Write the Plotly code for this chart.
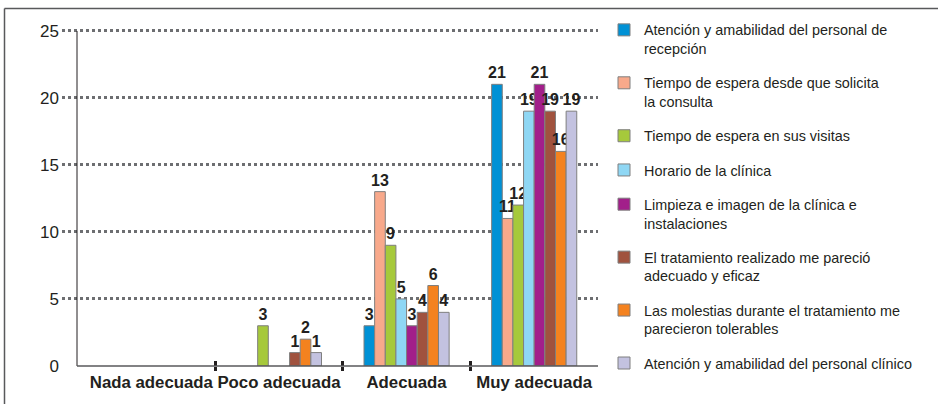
import plotly.graph_objects as go

categories = ["Nada adecuada", "Poco adecuada", "Adecuada", "Muy adecuada"]

series_names = [
    "Atención y amabilidad del personal de<br>recepción",
    "Tiempo de espera desde que solicita<br>la consulta",
    "Tiempo de espera en sus visitas",
    "Horario de la clínica",
    "Limpieza e imagen de la clínica e<br>instalaciones",
    "El tratamiento realizado me pareció<br>adecuado y eficaz",
    "Las molestias durante el tratamiento me<br>parecieron tolerables",
    "Atención y amabilidad del personal clínico",
]

atencion_recepcion = [0, 0, 3, 21]
espera_consulta = [0, 0, 13, 11]
espera_visitas = [0, 3, 9, 12]
horario = [0, 0, 5, 19]
limpieza = [0, 0, 3, 21]
tratamiento = [0, 1, 4, 19]
molestias = [0, 2, 6, 16]
atencion_clinico = [0, 1, 4, 19]

series_values = [atencion_recepcion, espera_consulta, espera_visitas, horario,
                 limpieza, tratamiento, molestias, atencion_clinico]

colors = ["#0091D5", "#F8A98B", "#A6C93B", "#8FD7F4",
          "#A21F8A", "#A0523E", "#F4821F", "#C3C2E0"]

y_ticks = [0, 5, 10, 15, 20, 25]
boundary_ticks = [0.5, 1.5, 2.5]

FONT = "Liberation Sans, Arial, Helvetica, sans-serif"
TXT = "#231F20"

W, H = 938, 404
L, R, T, B = 62, 598, 28, 366  # plot area in pixels


def px(x):
    return (x - L) / (R - L)


def py(y):
    return (B - y) / (B - T)


fig = go.Figure()
for name, vals, col in zip(series_names, series_values, colors):
    yv = [v if v else None for v in vals]
    fig.add_trace(go.Bar(
        x=categories, y=yv, name=name, legendgroup=name,
        marker=dict(color=col, line=dict(color="#7F7F7F", width=1)),
        text=[str(v) if v else "" for v in vals],
        textposition="outside", constraintext="none", cliponaxis=False,
        textfont=dict(family=FONT, size=16, color=TXT, weight="bold"),
    ))

# empty helper traces so the overlay axes carrying the category-boundary ticks are drawn
for ax in ("x2", "x3"):
    fig.add_trace(go.Scatter(x=[], y=[], xaxis=ax, yaxis="y", showlegend=False,
                             hoverinfo="skip", mode="markers"))

xr = [-0.7, 3.5]
fig.update_layout(
    template="none",
    width=W, height=H,
    margin=dict(l=L, r=W - R, t=T, b=H - B, pad=0),
    paper_bgcolor="white", plot_bgcolor="white",
    barmode="group", bargap=0.333, bargroupgap=0,
    font=dict(family=FONT, color=TXT),
    xaxis=dict(type="category", range=xr, showline=False, showgrid=False, automargin=False,
               ticks="", tickangle=0,
               tickfont=dict(family=FONT, size=16.8, color=TXT, weight="bold"),
               ticklabelstandoff=4),
    xaxis2=dict(type="linear", overlaying="x", anchor="y", range=xr, tickvals=boundary_ticks,
                automargin=False, ticks="outside", ticklen=4, tickwidth=3, tickcolor=TXT,
                showticklabels=False, showgrid=False, zeroline=False, showline=False),
    xaxis3=dict(type="linear", overlaying="x", anchor="y", range=xr, tickvals=boundary_ticks,
                automargin=False, ticks="inside", ticklen=5, tickwidth=3, tickcolor=TXT,
                showticklabels=False, showgrid=False, zeroline=False, showline=False),
    yaxis=dict(range=[0, 25.2], tickvals=y_ticks, showgrid=True, griddash="dot", automargin=False,
               gridwidth=3, gridcolor="#6D6E71", zeroline=False, showline=False,
               ticks="", tickfont=dict(family=FONT, size=17, color=TXT),
               ticklabelstandoff=2),
    legend=dict(xref="container", yref="container", x=604 / W, y=1 - 14 / H,
                xanchor="left", yanchor="top", maxheight=H, valign="top",
                font=dict(family=FONT, size=14.4, color=TXT),
                tracegroupgap=12.5, bgcolor="rgba(0,0,0,0)"),
    showlegend=True,
)

shapes = [
    # outer frame (top and left edges)
    dict(type="line", xref="paper", yref="paper", x0=px(4.5), x1=px(940), y0=py(8.5), y1=py(8.5),
         line=dict(color="#58595B", width=1.5)),
    dict(type="line", xref="paper", yref="paper", x0=px(4.5), x1=px(4.5), y0=py(8.5), y1=py(406),
         line=dict(color="#58595B", width=1.5)),
    # axis lines
    dict(type="line", xref="paper", yref="paper", x0=px(77), x1=px(77), y0=py(31), y1=0,
         line=dict(color=TXT, width=1)),
    dict(type="line", xref="paper", yref="paper", x0=px(77), x1=1, y0=0, y1=0,
         line=dict(color="#58595B", width=1.5)),
]
fig.update_layout(shapes=shapes)

fig.write_html("out.html", config={"displayModeBar": False},
               post_script="document.body.style.margin='0';document.body.style.padding='0';")
